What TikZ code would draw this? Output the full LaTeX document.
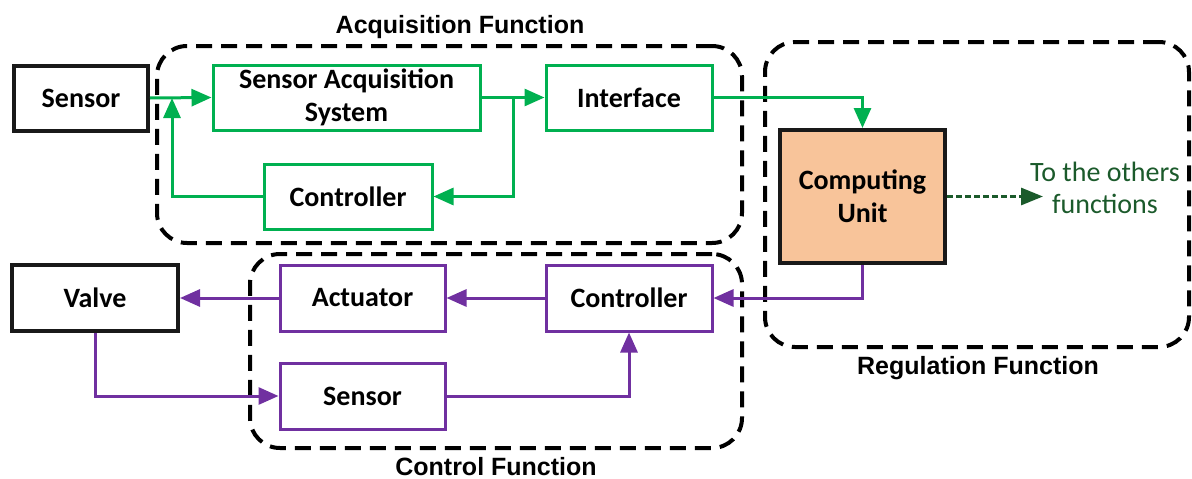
\documentclass[tikz,border=0pt]{standalone}
\usepackage{fontspec}
\setmainfont{Carlito}
\newfontfamily\arialf{Liberation Sans}
\usetikzlibrary{arrows.meta,calc}
\definecolor{grn}{HTML}{00B050}
\definecolor{prp}{HTML}{7030A0}
\definecolor{org}{HTML}{F8C49A}
\definecolor{dgrn}{HTML}{1B5A2B}
\begin{document}
\begin{tikzpicture}[x=1pt,y=-1pt,
  box/.style={rectangle, inner sep=0pt, align=center, font=\fontsize{28}{33}\selectfont\bfseries, text=black},
  gbox/.style={box, draw=grn, line width=3pt},
  pbox/.style={box, draw=prp, line width=3pt},
  kbox/.style={box, draw=black!90, line width=4pt},
  tip/.style={-{Triangle[length=20pt,width=17pt]}},
  garr/.style={draw=grn, line width=3pt, tip},
  parr/.style={draw=prp, line width=3pt, tip},
  darr/.style={draw=dgrn, line width=3pt, dash pattern=on 6pt off 3pt, -{Triangle[length=22pt,width=17pt]}},
  region/.style={draw=black, line width=4pt, dash pattern=on 16pt off 9pt, rounded corners=30pt, inner sep=0pt},
  title/.style={font=\arialf\fontsize{25}{30}\selectfont\bfseries, inner sep=0pt}
]
\useasboundingbox (0,0) rectangle (1192,479);
% regions
\node[region, minimum width=585pt, minimum height=197pt] (acq) at (449.5,144.5) {};
\node[region, minimum width=424pt, minimum height=305pt] (reg) at (977,194.5) {};
\node[region, minimum width=492pt, minimum height=194pt] (ctl) at (496,351) {};
\node[title] (acqt) at (460,27) {Acquisition Function};
\node[title] (regt) at (978,368) {Regulation Function};
\node[title] (ctlt) at (496,467) {Control Function};
% acquisition
\node[kbox, minimum width=134pt, minimum height=65pt] (sen) at (81,98) {Sensor};
\node[gbox, minimum width=267pt, minimum height=65pt] (sas) at (346.5,97.5) {Sensor Acquisition\\System};
\node[gbox, minimum width=166pt, minimum height=65pt] (intf) at (629,97.5) {Interface};
\node[gbox, minimum width=168pt, minimum height=65pt] (gctl) at (348,196.5) {Controller};
% regulation
\node[kbox, fill=org, minimum width=165pt, minimum height=133pt] (cu) at (862.5,196.5) {Computing\\Unit};
\node[box, font=\fontsize{28}{32}\selectfont\mdseries, text=dgrn] (oth) at (1105,188) {To the others\\functions};
\coordinate (dend) at (1043,196.5);
% control
\node[kbox, minimum width=166pt, minimum height=66pt] (valve) at (95,298) {Valve};
\node[pbox, minimum width=165pt, minimum height=66pt] (act) at (362.5,298) {Actuator};
\node[pbox, minimum width=166pt, minimum height=66pt] (pctl) at (629,298) {Controller};
\node[pbox, minimum width=165pt, minimum height=66pt] (psen) at (362.5,396) {Sensor};
% connectors
\coordinate (j1) at (172,98);
\coordinate (j2) at (513,98);
\draw[garr] (sen.east) -- (sas.west);
\draw[garr] (gctl.west) -| (j1);
\draw[garr] (sas.east) -- (intf.west);
\draw[garr] (j2) |- (gctl.east);
\draw[garr] (intf.east) -| (cu.north);
\draw[darr] (cu.east) -- (dend);
\draw[parr] (cu.south) |- (pctl.east);
\draw[parr] (pctl.west) -- (act.east);
\draw[parr] (act.west) -- (valve.east);
\draw[parr] (valve.south) |- (psen.west);
\draw[parr] (psen.east) -| (pctl.south);
\end{tikzpicture}
\end{document}
